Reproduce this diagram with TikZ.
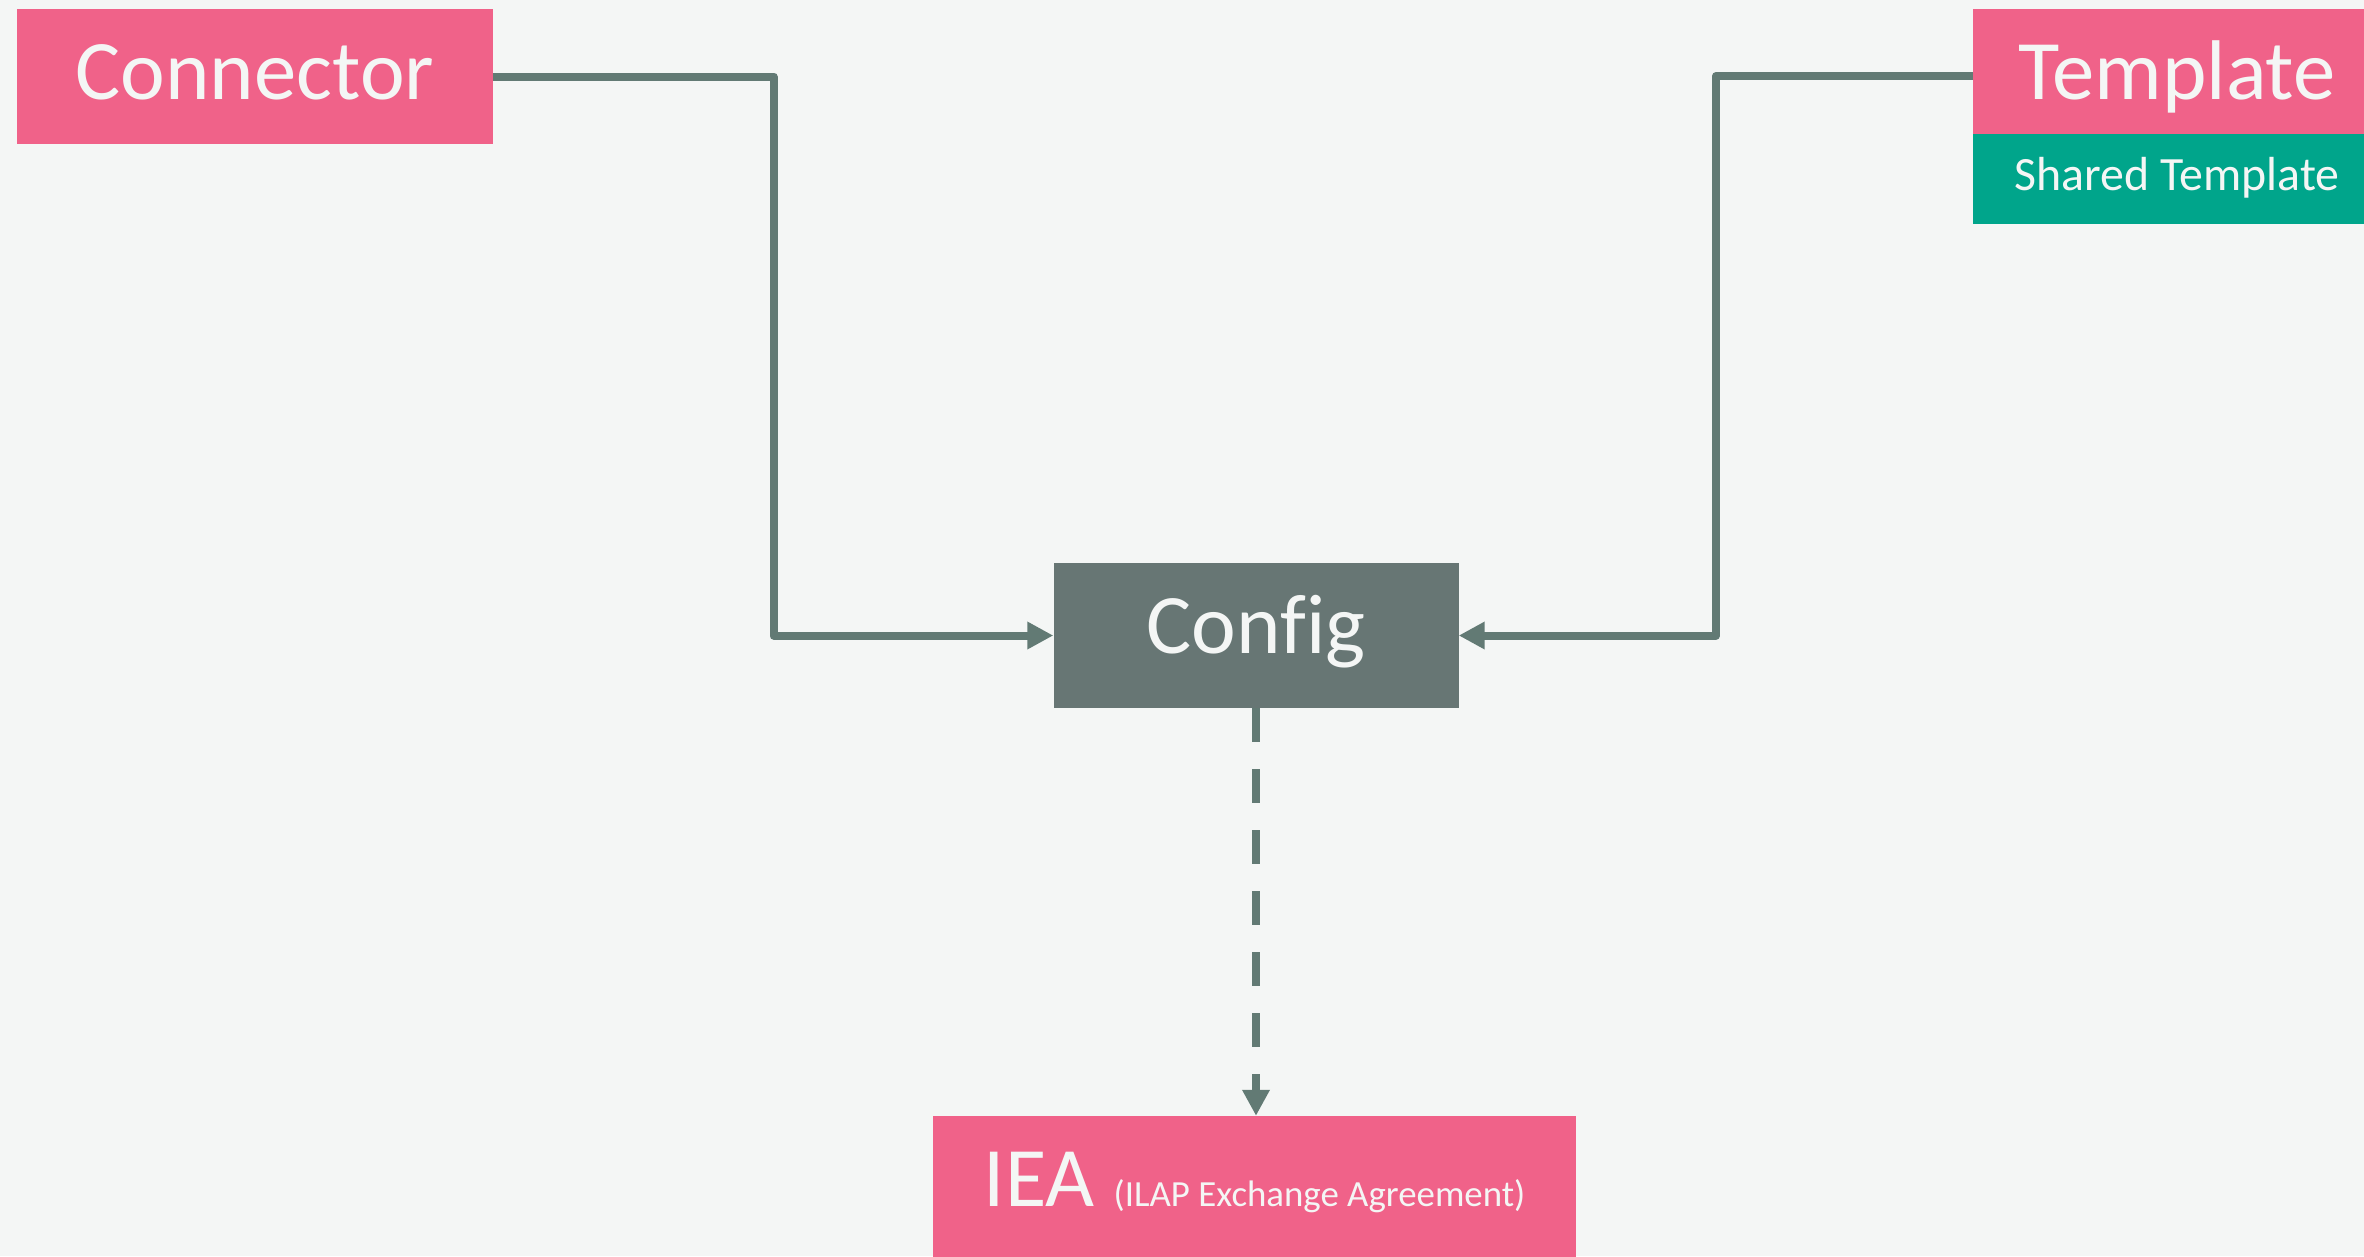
\documentclass[tikz,border=0pt]{standalone}
\usepackage{fontspec}
\setmainfont{Carlito}[Ligatures=CommonOff]
\usetikzlibrary{arrows.meta}
\definecolor{bg}{HTML}{F4F6F5}
\definecolor{pinkbox}{HTML}{F06289}
\definecolor{tealbox}{HTML}{00A58B}
\definecolor{graybox}{HTML}{677674}
\definecolor{wire}{HTML}{627A74}
\definecolor{txt}{HTML}{F4F6F5}
\begin{document}
\begin{tikzpicture}[x=1bp,y=-1bp,
  box/.style={inner sep=0pt, text=txt, text depth=0pt, font=\fontsize{85}{100}\selectfont},
  wirestyle/.style={draw=wire, line width=8bp, line join=round},
  tip/.style={-{Triangle[length=26bp,width=26bp]}}]
\fill[bg] (0,0) rectangle (2364,1256);
\useasboundingbox (0,0) rectangle (2364,1256);

\node[box, fill=pinkbox, minimum width=476bp, minimum height=135bp, text height=45bp] (conn) at (255,76.5) {Connector};
\node[box, fill=pinkbox, minimum width=408bp, minimum height=125bp, text height=55bp] (tmpl) at (2177,71.5) {Template};
\node[box, fill=tealbox, minimum width=408bp, minimum height=90bp, text height=22bp, font=\fontsize{48}{56}\selectfont] (shared) at (2177,179) {Shared Template};
\node[box, fill=graybox, minimum width=405bp, minimum height=145bp, text height=36bp] (config) at (1256,635.5) {Config};
\node[box, fill=pinkbox, minimum width=643bp, minimum height=150bp, text height=30bp] (iea) at (1254.5,1191) {IEA {\fontsize{37}{44}\selectfont(ILAP Exchange Agreement)}};

\coordinate (lbend) at (773.5,76.5);
\coordinate (tout) at (1973,76);
\coordinate (rbend) at (1716,76);

\draw[wirestyle, tip] (conn.east) -- (lbend) |- (config.west);
\draw[wirestyle, tip] (tout) -- (rbend) |- (config.east);
\draw[wirestyle, tip, dash pattern=on 34bp off 27bp] (config.south) -- (config.south |- iea.north);
\end{tikzpicture}
\end{document}
